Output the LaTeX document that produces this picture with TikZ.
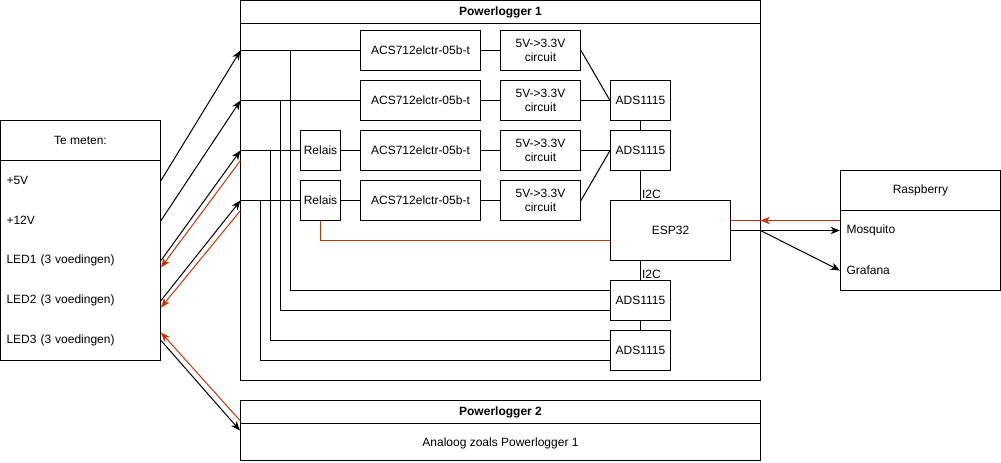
\documentclass[tikz,border=0pt]{standalone}
\usepackage{fontspec}
\setmainfont{Liberation Sans}
\usetikzlibrary{arrows.meta}
\definecolor{wirered}{RGB}{199,53,0}
\tikzset{every picture/.style={line width=0.75pt}}

\begin{document}
\begin{tikzpicture}[x=0.75pt,y=0.75pt,yscale=-1,xscale=1,
  lbl/.style={inner sep=0.75pt,font=\fontsize{9}{10.5}\selectfont},
  box/.style={lbl,draw,align=center},
  item/.style={lbl,inner xsep=4.5pt,text width=111pt,minimum height=30pt,align=left},
  arr/.style={-{Stealth[length=7pt,width=5.5pt,inset=2pt]}},
  red/.style={draw=wirered}]
\useasboundingbox (-0.5,-0.5) rectangle (1000.5,461.5);

%Shape: Swimlane Te meten
\node[draw,minimum width=120pt,minimum height=180pt] (tm) at (80,240) {};
\draw (tm.north west) ++(0,40) -- ++(160,0) ;
% Text Node
\node[lbl] (tmt) at (80,140) {Te meten:};
\node[item] (v5) at (80,180) {+5V};
\node[item] (v12) at (80,220) {+12V};
\node[item] (led1) at (80,260) {LED1 (3 voedingen)};
\node[item] (led2) at (80,300) {LED2 (3 voedingen)};
\node[item] (led3) at (80,340) {LED3 (3 voedingen)};

%Shape: Swimlane Powerlogger 1
\node[draw,minimum width=390pt,minimum height=285pt] (pl1) at (500,190) {};
\draw (pl1.north west) ++(0,23) -- ++(520,0) ;
\node[lbl,font=\fontsize{9}{10.5}\selectfont\bfseries] (pl1t) at (500,12) {Powerlogger 1};

%Shape: Swimlane Powerlogger 2
\node[draw,minimum width=390pt,minimum height=45pt] (pl2) at (500,430) {};
\draw (pl2.north west) ++(0,23) -- ++(520,0) ;
\node[lbl,font=\fontsize{9}{10.5}\selectfont\bfseries] (pl2t) at (500,411.5) {Powerlogger 2};
\node[lbl] (pl2x) at (500,443) {Analoog zoals Powerlogger 1};

%Shape: Swimlane Raspberry
\node[draw,minimum width=120pt,minimum height=90pt] (rp) at (920,230) {};
\draw (rp.north west) ++(0,40) -- ++(160,0) ;
\node[lbl] (rpt) at (920,190) {Raspberry};
\node[item] (mosq) at (920,230) {Mosquito};
\node[item] (graf) at (920,270) {Grafana};

%Blocks
\node[box,minimum width=90pt,minimum height=30pt] (acs1) at (420,50) {ACS712elctr-05b-t};
\node[box,minimum width=90pt,minimum height=30pt] (acs2) at (420,100) {ACS712elctr-05b-t};
\node[box,minimum width=90pt,minimum height=30pt] (acs3) at (420,150) {ACS712elctr-05b-t};
\node[box,minimum width=90pt,minimum height=30pt] (acs4) at (420,200) {ACS712elctr-05b-t};
\node[box,minimum width=60pt,minimum height=30pt] (conv1) at (540,50) {5V->3.3V\\circuit};
\node[box,minimum width=60pt,minimum height=30pt] (conv2) at (540,100) {5V->3.3V\\circuit};
\node[box,minimum width=60pt,minimum height=30pt] (conv3) at (540,150) {5V->3.3V\\circuit};
\node[box,minimum width=60pt,minimum height=30pt] (conv4) at (540,200) {5V->3.3V\\circuit};
\node[box,minimum width=30pt,minimum height=30pt] (rel3) at (320,150) {Relais};
\node[box,minimum width=30pt,minimum height=30pt] (rel4) at (320,200) {Relais};
\node[box,minimum width=45pt,minimum height=30pt] (ads1) at (640,100) {ADS1115};
\node[box,minimum width=45pt,minimum height=30pt] (ads2) at (640,150) {ADS1115};
\node[box,minimum width=45pt,minimum height=30pt] (ads3) at (640,300) {ADS1115};
\node[box,minimum width=45pt,minimum height=30pt] (ads4) at (640,350) {ADS1115};
\node[box,minimum width=90pt,minimum height=45pt] (esp) at (670,230) {ESP32};

%Ports on Powerlogger 1
\coordinate (r1) at (240,50);
\coordinate (r2) at (240,100);
\coordinate (r3) at (240,150);
\coordinate (r4) at (240,200);
\coordinate (q3) at (240,160);
\coordinate (q4) at (240,210);
\coordinate (t1) at (290,50);
\coordinate (t2) at (280,100);
\coordinate (t3) at (270,150);
\coordinate (t4) at (260,200);
\coordinate (pr) at (760,220);
\coordinate (pb) at (760,230);

%Straight Lines
\draw (r1) -- (acs1) ;
\draw (r2) -- (acs2) ;
\draw (r3) -- (rel3) ;
\draw (r4) -- (rel4) ;
\draw (rel3) -- (acs3) ;
\draw (rel4) -- (acs4) ;
\foreach \i in {1,...,4} {\draw (acs\i) -- (conv\i) ;}
\draw (conv1.east) -- (ads1.west) ;
\draw (conv2) -- (ads1) ;
\draw (conv3) -- (ads2) ;
\draw (conv4.east) -- (ads2.west) ;
\draw (ads1) -- (ads2) ;
\draw (ads2.south) -- (ads2.south |- esp.north) node[lbl,anchor=south west] (i2c1) {I2C} ;
\draw (ads3.north |- esp.south) -- (ads3.north) node[lbl,anchor=south west] (i2c2) {I2C} ;
\draw (ads3) -- (ads4) ;
\draw (t1) |- ([yshift=-7.5pt]ads3.west) ;
\draw (t2) |- ([yshift=7.5pt]ads3.west) ;
\draw (t3) |- ([yshift=-7.5pt]ads4.west) ;
\draw (t4) |- ([yshift=7.5pt]ads4.west) ;
\draw[red] (rel4) |- ([yshift=7.5pt]esp.west) ;

%Arrows
\draw[arr] (v5.east) -- (r1) ;
\draw[arr] (v12.east) -- (r2) ;
\draw[arr] (led1.east) -- (r3) ;
\draw[arr] (led2.east) -- (r4) ;
\draw[arr] (led3.east) -- (pl2.west) ;
\draw[red,arr] (q3) -- ([yshift=5.25pt]led1.east) ;
\draw[red,arr] (q4) -- ([yshift=5.25pt]led2.east) ;
\draw[red,arr] ([yshift=-7.5pt]pl2.west) -- ([yshift=-6pt]led3.east) ;
\draw[red] ([yshift=-7.5pt]esp.east) -- ([yshift=-7.5pt]mosq.west) ;
\draw[red,arr] ([yshift=-7.5pt]mosq.west) -- (pr) ;
\draw[arr] (esp.east) -- (mosq.west) ;
\draw[arr] (pb) -- (graf.west) ;

\end{tikzpicture}
\end{document}
